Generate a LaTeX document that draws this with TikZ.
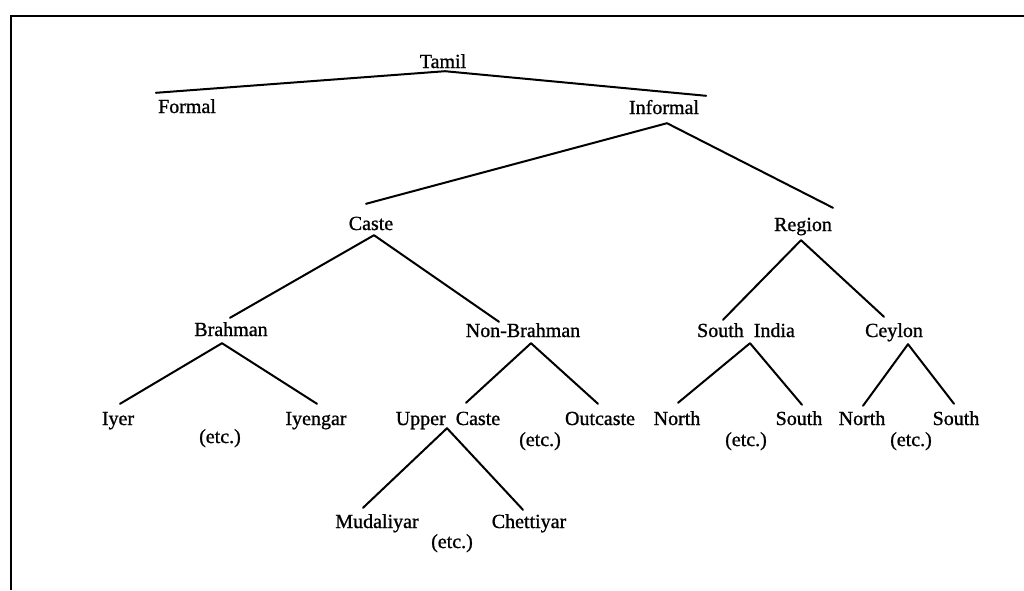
\documentclass[tikz,border=0pt]{standalone}
\usepackage{fontspec}
\setmainfont{Liberation Serif}
\newfontface\thickserif{Liberation Serif}[FakeBold=1]
\usetikzlibrary{calc}
\begin{document}
\begin{tikzpicture}[x=1pt,y=-1pt,
  lab/.style={anchor=base,inner sep=0pt,font=\thickserif\fontsize{20}{24}\selectfont,text height=14pt,text depth=0pt},
  etc/.style={anchor=base,inner sep=0pt,font=\thickserif\fontsize{20}{24}\selectfont},
  edge/.style={line width=2pt,line cap=round,line join=round},
  frame/.style={line width=2pt}]
\useasboundingbox (0,0) rectangle (1024,590);
\draw[frame] (11,590) -- (11,16) -- (1024,16);

% nodes
\node[lab] (tamil) at (443,68) {Tamil};
\node[lab] (formal) at (187,113) {Formal};
\node[lab] (informal) at (664,114) {Informal};
\node[lab] (caste) at (371,230) {Caste};
\node[lab] (region) at (803,231) {Region};
\node[lab] (brahman) at (231,336) {Brahman};
\node[lab] (nonbrahman) at (523,337) {Non-Brahman};
\node[lab] (southindia) at (746,337) {South\ \ India};
\node[lab] (ceylon) at (894,337) {Ceylon};
\node[lab] (iyer) at (118,425) {Iyer};
\node[lab] (iyengar) at (316,425) {Iyengar};
\node[lab] (uppercaste) at (448,425) {Upper\ \ Caste};
\node[lab] (outcaste) at (600,425) {Outcaste};
\node[lab] (northA) at (677,425) {North};
\node[lab] (southA) at (799,425) {South};
\node[lab] (northB) at (862,425) {North};
\node[lab] (southB) at (956,425) {South};
\node[lab] (mudaliyar) at (377,528) {Mudaliyar};
\node[lab] (chettiyar) at (529,528) {Chettiyar};
\node[etc] (etcA) at (220,443) {(etc.)};
\node[etc] (etcB) at (540,446) {(etc.)};
\node[etc] (etcC) at (746,446) {(etc.)};
\node[etc] (etcD) at (911,446) {(etc.)};
\node[etc] (etcE) at (452,548) {(etc.)};

% edges
\draw[edge] ($(formal.north west)+(-2,-6)$) -- ($(tamil.south)+(2,3)$) -- ($(informal.north east)+(7,-4)$);
\draw[edge] ($(caste.north)+(-5,-12)$) -- ($(informal.south)+(3,9)$) -- ($(region.north)+(30,-9)$);
\draw[edge] ($(brahman.north)+(-1,-4)$) -- ($(caste.south)+(3,5)$) -- ($(nonbrahman.north)+(-24,-1)$);
\draw[edge] ($(iyer.north)+(2,-7)$) -- ($(brahman.south)+(-9,7)$) -- ($(iyengar.north)+(1,-7)$);
\draw[edge] ($(uppercaste.north)+(18,-8)$) -- ($(nonbrahman.south)+(8,6)$) -- ($(outcaste.north)+(-2,-7)$);
\draw[edge] ($(mudaliyar.north)+(-14,-6)$) -- ($(uppercaste.south)+(-1,3)$) -- ($(chettiyar.north)+(-6,-4)$);
\draw[edge] ($(southindia.north)+(-23,-3)$) -- ($(region.south)+(-2,9)$) -- ($(ceylon.north)+(-10,-6)$);
\draw[edge] ($(northA.north)+(1,-8)$) -- ($(southindia.south)+(4,6)$) -- ($(southA.north)+(3,-6)$);
\draw[edge] ($(northB.north)+(1,-5)$) -- ($(ceylon.south)+(14,7)$) -- ($(southB.north)+(-2,-7)$);
\end{tikzpicture}
\end{document}
